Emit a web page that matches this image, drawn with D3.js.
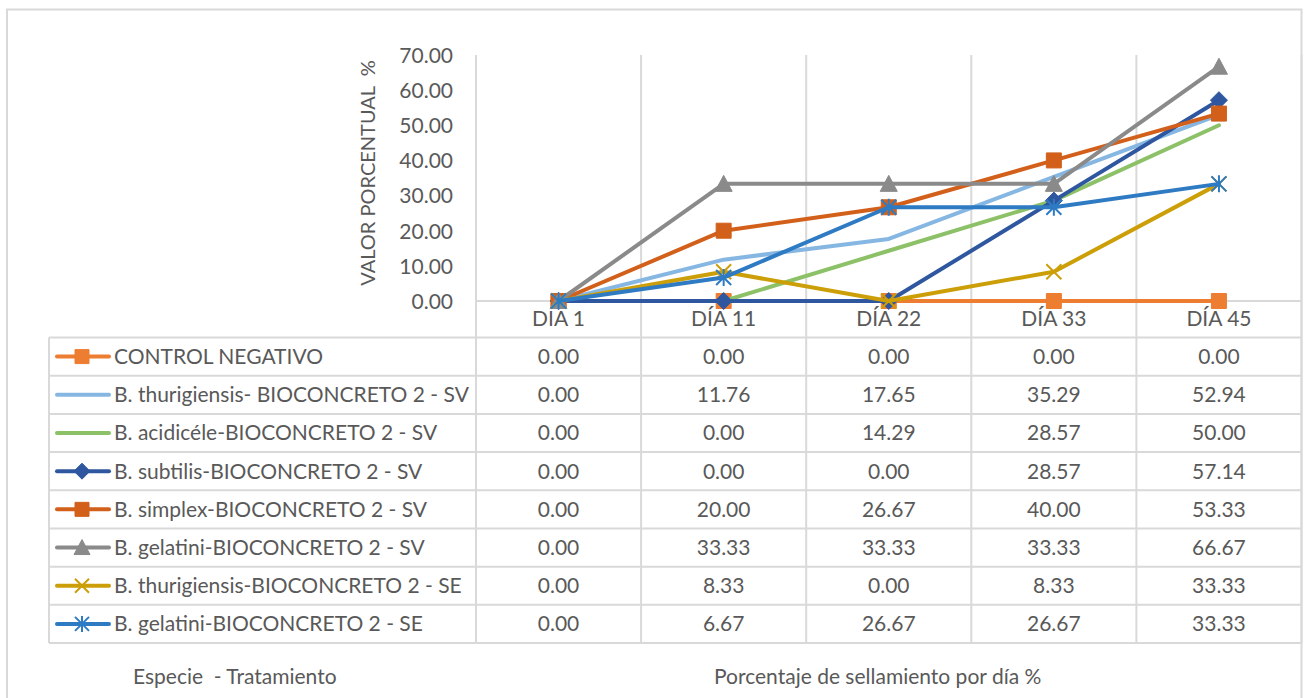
<!DOCTYPE html>
<html>
<head>
<meta charset="utf-8">
<script src="https://cdn.jsdelivr.net/npm/d3@7"></script>
<style>
  html, body { margin: 0; padding: 0; background: #fff; }
  svg { display: block; font-family: Lato, "Open Sans", sans-serif; }
</style>
</head>
<body>
<svg id="chart" width="1304" height="698"></svg>
<script>
// Days on the x axis
const categories = ["DIA 1", "DÍA 11", "DÍA 22", "DÍA 33", "DÍA 45"];

// Treatments (species - treatment)
const seriesNames = [
  "CONTROL NEGATIVO",
  "B. thurigiensis- BIOCONCRETO 2 - SV",
  "B. acidicéle-BIOCONCRETO 2 - SV",
  "B. subtilis-BIOCONCRETO 2 - SV",
  "B. simplex-BIOCONCRETO 2 - SV",
  "B. gelatini-BIOCONCRETO 2 - SV",
  "B. thurigiensis-BIOCONCRETO 2 - SE",
  "B. gelatini-BIOCONCRETO 2 - SE"
];

// Sealing percentage per day, one array per treatment
const controlNegativo      = [0.00, 0.00, 0.00, 0.00, 0.00];
const thurigiensisSV       = [0.00, 11.76, 17.65, 35.29, 52.94];
const acidiceleSV          = [0.00, 0.00, 14.29, 28.57, 50.00];
const subtilisSV           = [0.00, 0.00, 0.00, 28.57, 57.14];
const simplexSV            = [0.00, 20.00, 26.67, 40.00, 53.33];
const gelatiniSV           = [0.00, 33.33, 33.33, 33.33, 66.67];
const thurigiensisSE       = [0.00, 8.33, 0.00, 8.33, 33.33];
const gelatiniSE           = [0.00, 6.67, 26.67, 26.67, 33.33];

const yTicks = [0, 10, 20, 30, 40, 50, 60, 70];

const seriesValues = [controlNegativo, thurigiensisSV, acidiceleSV, subtilisSV,
                      simplexSV, gelatiniSV, thurigiensisSE, gelatiniSE];
const colors  = ["#ED7D31", "#86B7E3", "#8CC168", "#2F57A0", "#D2601A", "#8A8A8A", "#CC9F08", "#2E7BC4"];
const markers = ["square", "none", "none", "diamond", "square", "triangle", "x", "star"];

const series = seriesNames.map((name, i) => ({
  name, values: seriesValues[i], color: colors[i], marker: markers[i]
}));

const svg = d3.select("#chart");
const textColor = "#595959";
const gridColor = "#D9D9D9";
const fontSize = "21px";

// Layout
const plotLeft = 476, plotRight = 1301.5;
const plotTop = 55, plotBottom = 301;
const tableLeft = 49, tableTop = 337.5, tableBottom = 643;

const x = d3.scaleBand().domain(categories).range([plotLeft, plotRight]).padding(0);
const xc = c => x(c) + x.bandwidth() / 2;
const y = d3.scaleLinear().domain([0, 70]).range([plotBottom, plotTop]);
const rowScale = d3.scaleBand().domain(seriesNames).range([tableTop, tableBottom]).padding(0);

// Outer frame
svg.append("rect")
  .attr("x", 7).attr("y", 9.5).attr("width", 1294.5).attr("height", 700)
  .attr("fill", "none").attr("stroke", gridColor).attr("stroke-width", 2);

// Vertical gridlines / table column boundaries
const colEdges = categories.map(c => x(c)).concat([plotRight]);
svg.append("g").selectAll("line").data(colEdges).join("line")
  .attr("x1", d => d).attr("x2", d => d)
  .attr("y1", plotTop).attr("y2", tableBottom)
  .attr("stroke", gridColor).attr("stroke-width", 2);

// Horizontal zero line
svg.append("line")
  .attr("x1", plotLeft).attr("x2", plotRight)
  .attr("y1", y(0)).attr("y2", y(0))
  .attr("stroke", gridColor).attr("stroke-width", 2);

// Table horizontal rules
const rowEdges = seriesNames.map(n => rowScale(n)).concat([tableBottom]);
svg.append("g").selectAll("line").data(rowEdges).join("line")
  .attr("x1", tableLeft).attr("x2", plotRight)
  .attr("y1", d => d).attr("y2", d => d)
  .attr("stroke", gridColor).attr("stroke-width", 2);
svg.append("line")
  .attr("x1", tableLeft).attr("x2", tableLeft)
  .attr("y1", tableTop).attr("y2", tableBottom)
  .attr("stroke", gridColor).attr("stroke-width", 2);

// Y axis tick labels
const yAxis = d3.axisLeft(y).tickValues(yTicks).tickFormat(d3.format(".2f")).tickSize(0).tickPadding(0);
const yg = svg.append("g").attr("transform", `translate(453,0)`).call(yAxis);
yg.select(".domain").remove();
yg.selectAll("text")
  .attr("fill", textColor).style("font-size", fontSize).style("font-family", "Lato, sans-serif")
  .attr("dy", "0.35em");

// Y axis title
svg.append("text")
  .attr("transform", `translate(375,${(plotTop + plotBottom) / 2 - 5}) rotate(-90)`)
  .attr("text-anchor", "middle")
  .attr("fill", textColor).style("font-size", "20px")
  .style("white-space", "pre")
  .text("VALOR PORCENTUAL  %");

// Category labels
const xAxis = d3.axisBottom(x).tickSize(0).tickPadding(0);
const xg = svg.append("g").attr("transform", `translate(0,${plotBottom})`).call(xAxis);
xg.select(".domain").remove();
xg.selectAll("text")
  .attr("fill", textColor).style("font-size", fontSize).style("font-family", "Lato, sans-serif")
  .attr("y", 0).attr("dy", "25px");

// Marker shapes
function markerPath(type, s) {
  const h = s / 2;
  switch (type) {
    case "square":   return `M${-h},${-h}H${h}V${h}H${-h}Z`;
    case "diamond":  return `M0,${-h - 1}L${h + 1},0L0,${h + 1}L${-h - 1},0Z`;
    case "triangle": return `M0,${-h - 1}L${h + 1},${h}L${-h - 1},${h}Z`;
    case "x":        return `M${-h},${-h}L${h},${h}M${h},${-h}L${-h},${h}`;
    case "star":     return `M${-h},${-h}L${h},${h}M${h},${-h}L${-h},${h}M0,${-h - 1}V${h + 1}`;
    default:         return "";
  }
}
const strokeMarkers = new Set(["x", "star"]);

function drawMarker(g, type, color, cx, cy, s) {
  if (type === "none") return;
  const p = g.append("path")
    .attr("d", markerPath(type, s))
    .attr("transform", `translate(${cx},${cy})`);
  if (strokeMarkers.has(type)) {
    p.attr("fill", "none").attr("stroke", color).attr("stroke-width", 2);
  } else {
    p.attr("fill", color).attr("stroke", color).attr("stroke-width", 1);
  }
}

// Lines and markers
const line = d3.line().x((d, i) => xc(categories[i])).y(d => y(d));
const plot = svg.append("g");
series.forEach(s => {
  const g = plot.append("g");
  g.append("path")
    .attr("d", line(s.values))
    .attr("fill", "none").attr("stroke", s.color)
    .attr("stroke-width", 4).attr("stroke-linejoin", "round").attr("stroke-linecap", "round");
  s.values.forEach((v, i) => drawMarker(g, s.marker, s.color, xc(categories[i]), y(v), 15));
});

// Table: legend keys, names and values
const rows = svg.append("g").selectAll("g").data(series).join("g")
  .attr("transform", d => `translate(0,${rowScale(d.name) + rowScale.bandwidth() / 2})`);

rows.append("line")
  .attr("x1", 57).attr("x2", 109).attr("y1", 0).attr("y2", 0)
  .attr("stroke", d => d.color).attr("stroke-width", 4).attr("stroke-linecap", "round");
rows.each(function (d) {
  drawMarker(d3.select(this), d.marker, d.color, 82, 0, 14);
});
rows.append("text")
  .attr("x", 114).attr("y", 0).attr("dy", "0.35em")
  .attr("fill", textColor).style("font-size", fontSize)
  .text(d => d.name);

rows.selectAll("text.val").data(d => d.values).join("text")
  .attr("class", "val")
  .attr("x", (d, i) => xc(categories[i])).attr("y", 0).attr("dy", "0.35em")
  .attr("text-anchor", "middle")
  .attr("fill", textColor).style("font-size", fontSize)
  .text(d => d3.format(".2f")(d));

// Bottom titles
svg.append("text")
  .attr("x", 133).attr("y", 684)
  .attr("fill", textColor).style("font-size", fontSize).style("white-space", "pre")
  .text("Especie  - Tratamiento");
svg.append("text")
  .attr("x", 714).attr("y", 684)
  .attr("fill", textColor).style("font-size", fontSize)
  .text("Porcentaje de sellamiento por día %");
</script>
</body>
</html>
